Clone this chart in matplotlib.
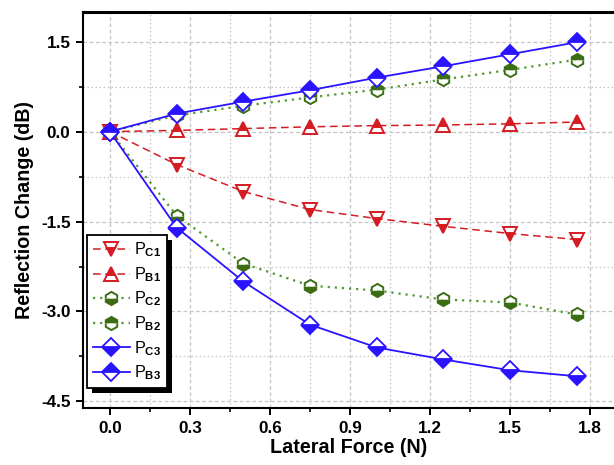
import matplotlib
matplotlib.use("Agg")
import matplotlib.pyplot as plt
from matplotlib.ticker import MultipleLocator
from matplotlib.patches import Rectangle
from matplotlib.transforms import IdentityTransform

plt.rcParams['font.family'] = ['Liberation Sans', 'DejaVu Sans']
plt.rcParams['mathtext.fontset'] = 'custom'
plt.rcParams['mathtext.rm'] = 'Liberation Sans'
plt.rcParams['mathtext.bf'] = 'Liberation Sans:bold'

force = [0.0, 0.25, 0.5, 0.75, 1.0, 1.25, 1.5, 1.75]
p_c1 = [0.0, -0.55, -1.0, -1.3, -1.45, -1.58, -1.7, -1.8]
p_b1 = [0.0, 0.02, 0.05, 0.08, 0.1, 0.11, 0.13, 0.16]
p_c2 = [0.0, -1.4, -2.2, -2.57, -2.65, -2.8, -2.85, -3.05]
p_b2 = [0.0, 0.27, 0.43, 0.57, 0.7, 0.87, 1.03, 1.2]
p_c3 = [0.0, -1.6, -2.5, -3.22, -3.6, -3.8, -3.98, -4.08]
p_b3 = [0.0, 0.3, 0.5, 0.69, 0.9, 1.09, 1.29, 1.49]

labels = [r'P$_{\mathbf{C1}}$', r'P$_{\mathbf{B1}}$', r'P$_{\mathbf{C2}}$',
          r'P$_{\mathbf{B2}}$', r'P$_{\mathbf{C3}}$', r'P$_{\mathbf{B3}}$']

red = '#d41c22'
green_m = '#3b6e14'
green_l = '#4f9a2e'
blue = '#2a14ff'

fig = plt.figure(figsize=(6.14, 4.65), dpi=100)
ax = fig.add_axes([83/614, 57/465, (614-83)/614, (408-12)/465])

common = dict(markersize=9.5, markeredgewidth=1.4, markerfacecoloralt='white')
ax.plot(force, p_c1, ls=(0, (5, 3)), color=red, lw=1.1, marker='v', fillstyle='bottom',
        mfc=red, mec=red, label=labels[0], **common)
ax.plot(force, p_b1, ls=(0, (5, 3)), color=red, lw=1.1, marker='^', fillstyle='top',
        mfc=red, mec=red, label=labels[1], **common)
ax.plot(force, p_c2, ls=(0, (1, 2.2)), color=green_l, lw=1.6, marker='h', fillstyle='bottom',
        mfc=green_m, mec=green_m, label=labels[2], **common)
ax.plot(force, p_b2, ls=(0, (1, 2.2)), color=green_l, lw=1.6, marker='h', fillstyle='top',
        mfc=green_m, mec=green_m, label=labels[3], **common)
ax.plot(force, p_c3, ls='-', color=blue, lw=1.3, marker='D', fillstyle='bottom',
        mfc=blue, mec=blue, label=labels[4], markersize=9, markeredgewidth=1.3,
        markerfacecoloralt='white')
ax.plot(force, p_b3, ls='-', color=blue, lw=1.3, marker='D', fillstyle='top',
        mfc=blue, mec=blue, label=labels[5], markersize=9, markeredgewidth=1.3,
        markerfacecoloralt='white')

ax.set_xlim(-0.101, 1.89)
ax.set_ylim(-4.61, 1.995)
ax.xaxis.set_minor_locator(MultipleLocator(0.15))
ax.yaxis.set_minor_locator(MultipleLocator(0.75))
ax.set_xticks([0.0, 0.3, 0.6, 0.9, 1.2, 1.5, 1.8])
ax.set_xticklabels(['0.0', '0.3', '0.6', '0.9', '1.2', '1.5', '1.8'])
ax.set_yticks([-4.5, -3.0, -1.5, 0.0, 1.5])
ax.set_yticklabels(['-4.5', '-3.0', '-1.5', '0.0', '1.5'])

ax.grid(which='major', color='#c4c4c4', ls=(0, (3, 2)), lw=0.9)
ax.grid(which='minor', color='#c4c4c4', ls=(0, (1.2, 2)), lw=0.9)
ax.set_axisbelow(True)

ax.tick_params(which='major', direction='out', length=5, width=1.4, labelsize=12.3, pad=4)
ax.tick_params(which='minor', direction='out', length=3, width=1.2)
for t in ax.get_xticklabels() + ax.get_yticklabels():
    t.set_fontweight('bold')
ax.tick_params(top=False, right=False, which='both')
ax.spines['right'].set_visible(False)
ax.spines['top'].set_linewidth(2.2)
ax.spines['left'].set_linewidth(1.5)
ax.spines['bottom'].set_linewidth(1.5)

ax.set_xlabel('Lateral Force (N)', fontsize=14.2, fontweight='bold', labelpad=2)
ax.set_ylabel('Reflection Change (dB)', fontsize=14.2, fontweight='bold', labelpad=5)

leg = ax.legend(loc='upper left', bbox_to_anchor=(4/531, (396-223)/396), fontsize=11.7,
                frameon=True, fancybox=False, edgecolor='black', framealpha=1,
                handlelength=2.3, handletextpad=0.25, labelspacing=0.36,
                borderpad=0.35, borderaxespad=0.0)
leg.get_frame().set_linewidth(1.3)
leg.set_zorder(10)

fig.canvas.draw()
bb = leg.get_window_extent()
shadow = Rectangle((bb.x0 + 5, bb.y0 - 5), bb.width, bb.height, transform=IdentityTransform(),
                   facecolor='black', edgecolor='none', zorder=9, clip_on=False)
ax.add_artist(shadow)

fig.savefig('out.png', dpi=100)
